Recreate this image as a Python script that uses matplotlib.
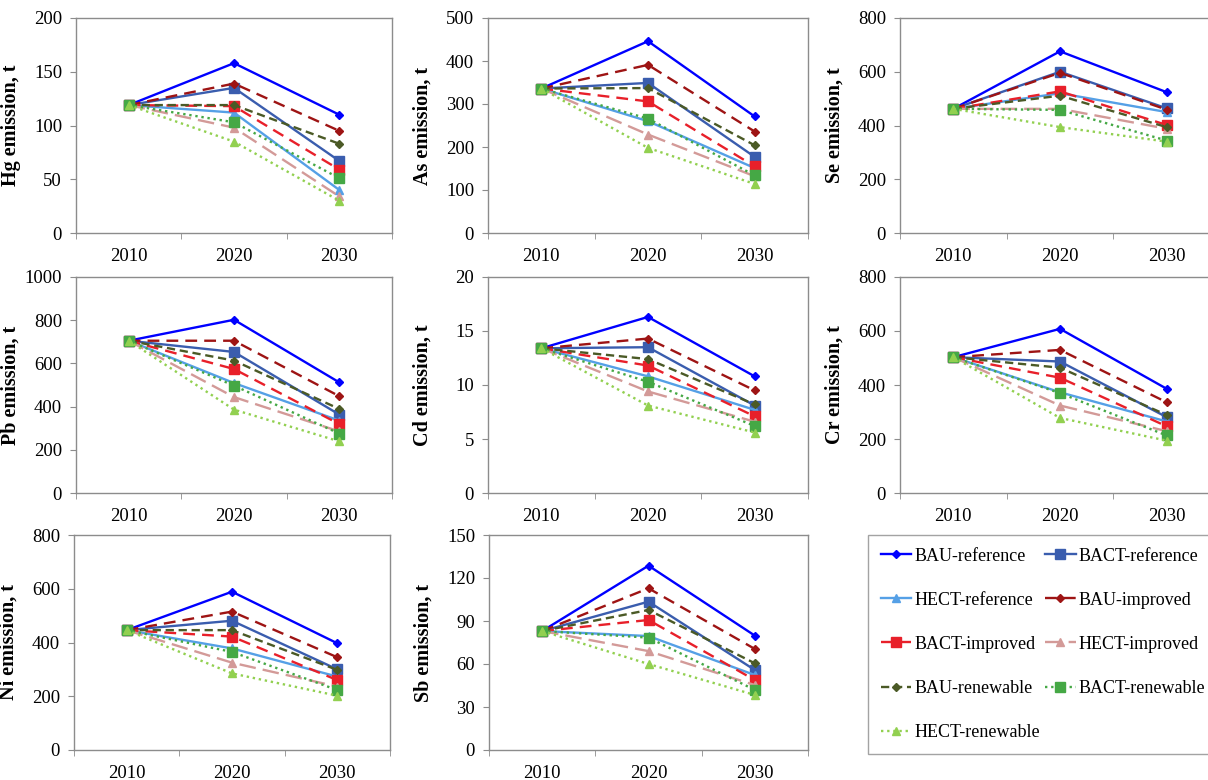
import matplotlib
matplotlib.use("Agg")
import matplotlib.pyplot as plt
import numpy as np

plt.rcParams['font.family'] = ['Liberation Serif', 'DejaVu Serif']

years = ['2010', '2020', '2030']
scenarios = ['BAU-reference', 'BACT-reference', 'HECT-reference',
             'BAU-improved', 'BACT-improved', 'HECT-improved',
             'BAU-renewable', 'BACT-renewable', 'HECT-renewable']

# emission values (t), one row per scenario in the order above
hg = [[119, 158, 110], [119, 135, 67], [119, 112, 40],
      [119, 139, 95], [119, 118, 59], [119, 98, 34],
      [119, 119, 83], [119, 103, 51], [119, 85, 30]]
as_ = [[336, 446, 271], [336, 349, 177], [336, 260, 151],
       [336, 391, 236], [336, 306, 155], [336, 229, 132],
       [336, 337, 204], [336, 266, 134], [336, 198, 114]]
se = [[462, 676, 524], [462, 600, 464], [462, 520, 450],
      [462, 596, 459], [462, 527, 402], [462, 462, 388],
      [462, 511, 394], [462, 458, 344], [462, 394, 340]]
pb = [[705, 802, 512], [705, 653, 363], [705, 509, 335],
      [705, 705, 448], [705, 574, 319], [705, 444, 285],
      [705, 613, 389], [705, 497, 275], [705, 386, 239]]
cd = [[13.4, 16.3, 10.8], [13.4, 13.5, 8.1], [13.4, 10.8, 7.7],
      [13.4, 14.3, 9.5], [13.4, 11.8, 7.1], [13.4, 9.4, 6.6],
      [13.4, 12.4, 8.2], [13.4, 10.3, 6.2], [13.4, 8.1, 5.6]]
cr = [[503, 608, 386], [503, 487, 281], [503, 373, 265],
      [503, 530, 336], [503, 427, 247], [503, 324, 229],
      [503, 464, 289], [503, 370, 213], [503, 278, 194]]
ni = [[446, 589, 397], [446, 481, 300], [446, 378, 273],
      [446, 515, 345], [446, 422, 260], [446, 325, 236],
      [446, 446, 298], [446, 365, 223], [446, 285, 202]]
sb = [[83, 128.6, 79.8], [83, 103.5, 55.8], [83, 79.5, 52.3],
      [83, 112.8, 70.5], [83, 90.7, 48.8], [83, 69, 45.3],
      [83, 97.7, 60.5], [83, 78.4, 41.9], [83, 60, 38.4]]

metals = ['Hg', 'As', 'Se', 'Pb', 'Cd', 'Cr', 'Ni', 'Sb']
values = [hg, as_, se, pb, cd, cr, ni, sb]
ymax = [200, 500, 800, 1000, 20, 800, 800, 150]
ystep = [50, 100, 200, 200, 5, 200, 200, 30]

styles = [
    dict(color='#0000FF', ls='-', marker='D', ms=4.5),
    dict(color='#3A5DAE', ls='-', marker='s', ms=6.5),
    dict(color='#55A0E6', ls='-', marker='^', ms=6),
    dict(color='#9E1414', ls=(0, (5, 3)), marker='D', ms=4.5),
    dict(color='#E8202A', ls=(0, (5, 3)), marker='s', ms=6.5),
    dict(color='#D39A98', ls=(0, (7, 3)), marker='^', ms=6),
    dict(color='#4B5A26', ls=(0, (3.5, 2)), marker='D', ms=4.5),
    dict(color='#45A845', ls=(0, (1, 1.6)), marker='s', ms=6.5),
    dict(color='#92D050', ls=(0, (1, 1.6)), marker='^', ms=6),
]

W, H = 1208, 780
# plot-area boxes in pixels: left, top, right, bottom
boxes = [(76, 18, 392, 233), (488, 18, 808, 233), (900, 18, 1220, 233),
         (76, 277, 392, 493), (488, 277, 808, 493), (900, 277, 1220, 493),
         (74, 535, 390, 750), (489, 535, 808, 750)]

fig = plt.figure(figsize=(W / 100, H / 100), dpi=100)
gray = '#8C8C8C'
x = np.arange(len(years))
handles = []

for i, (name, data) in enumerate(zip(metals, values)):
    l, t, r, b = boxes[i]
    ax = fig.add_axes([l / W, 1 - b / H, (r - l) / W, (b - t) / H])
    for j, st in enumerate(styles):
        ln, = ax.plot(x, data[j], color=st['color'], ls=st['ls'], lw=1.7,
                      marker=st['marker'], ms=st['ms'], mec=st['color'],
                      mfc=st['color'], label=scenarios[j], clip_on=False)
        if i == 0:
            handles.append(ln)
    ax.set_xlim(-0.5, 2.5)
    ax.set_ylim(0, ymax[i])
    ax.set_yticks(np.arange(0, ymax[i] + ystep[i] / 2, ystep[i]))
    ax.set_xticks(x)
    ax.set_xticklabels(years)
    ax.set_xticks([-0.5, 0.5, 1.5, 2.5], minor=True)
    ax.tick_params(axis='x', which='major', length=0, pad=11, labelsize=13.5)
    ax.tick_params(axis='x', which='minor', length=4, color=gray, direction='out')
    ax.tick_params(axis='y', length=4, color=gray, direction='out', pad=6, labelsize=13.5)
    for sp in ax.spines.values():
        sp.set_color(gray)
        sp.set_linewidth(1)
    ax.set_ylabel(f'{name} emission, t', fontsize=14.5, fontweight='bold')
    ax.yaxis.set_label_coords(-55 / (r - l), 0.5)

# legend reads row by row in the reference; matplotlib fills column by column
order = [0, 2, 4, 6, 8, 1, 3, 5, 7]
fig.legend([handles[k] for k in order], [scenarios[k] for k in order],
           loc='upper left', ncol=2,
           bbox_to_anchor=(868 / W, 1 - 535 / H), frameon=True, fancybox=False,
           edgecolor=gray, fontsize=13, handlelength=1.7, handletextpad=0.15,
           columnspacing=0.3, labelspacing=1.5, borderpad=0.7, borderaxespad=0)

fig.savefig('out.png', dpi=100)
